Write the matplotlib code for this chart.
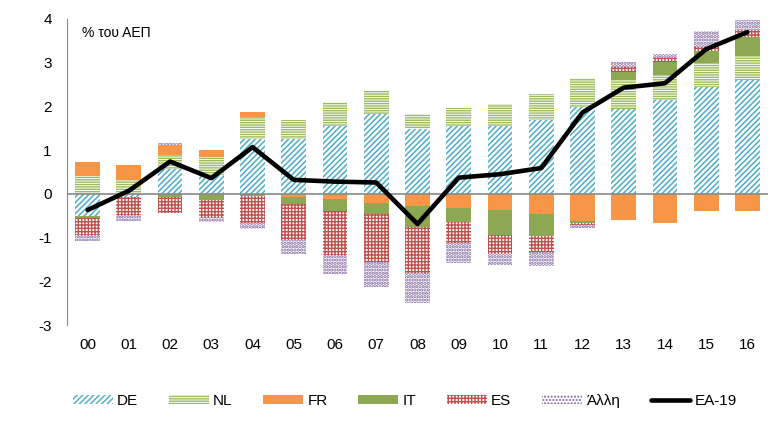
import matplotlib.pyplot as plt
import numpy as np

years = ['00', '01', '02', '03', '04', '05', '06', '07', '08',
         '09', '10', '11', '12', '13', '14', '15', '16']

# contributions, % of GDP
de = [-0.50, -0.08, 0.56, 0.43, 1.25, 1.25, 1.56, 1.83, 1.48,
      1.56, 1.56, 1.69, 1.98, 1.95, 2.15, 2.44, 2.61]
nl = [0.41, 0.32, 0.33, 0.42, 0.50, 0.44, 0.55, 0.55, 0.35,
      0.41, 0.50, 0.60, 0.67, 0.66, 0.57, 0.56, 0.55]
fr = [0.31, 0.33, 0.22, 0.15, 0.13, -0.07, -0.11, -0.21, -0.27,
      -0.32, -0.37, -0.46, -0.62, -0.59, -0.66, -0.40, -0.40]
it = [-0.05, 0.02, -0.07, -0.14, -0.06, -0.16, -0.28, -0.25, -0.49,
      -0.32, -0.57, -0.50, -0.04, 0.17, 0.30, 0.26, 0.42]
es = [-0.39, -0.40, -0.37, -0.42, -0.61, -0.82, -1.02, -1.09, -1.04,
      -0.49, -0.43, -0.36, -0.06, 0.13, 0.08, 0.11, 0.16]
other = [-0.13, -0.13, 0.06, -0.08, -0.13, -0.32, -0.43, -0.57, -0.69,
         -0.46, -0.25, -0.33, -0.07, 0.11, 0.10, 0.36, 0.24]
ea19 = [-0.37, 0.07, 0.74, 0.36, 1.07, 0.32, 0.28, 0.26, -0.69,
        0.37, 0.45, 0.59, 1.86, 2.43, 2.53, 3.31, 3.70]

plt.rcParams['font.family'] = ['Liberation Sans', 'DejaVu Sans']
plt.rcParams['axes.unicode_minus'] = False
plt.rcParams['hatch.linewidth'] = 1.0

fig = plt.figure(figsize=(7.7, 4.36), dpi=100)
ax = fig.add_axes([67 / 770, 1 - 325 / 436, 701 / 770, 306 / 436])

# name, values, colour, hatch (None = solid), hatch linewidth
series = [
    ('DE', de, '#4BACC6', '//////', 1.1),
    ('NL', nl, '#9BBB59', '-------', 1.0),
    ('FR', fr, '#F79646', None, 1.0),
    ('IT', it, '#8CA853', None, 1.0),
    ('ES', es, '#C0504D', '+++++', 1.0),
    ('Άλλη', other, '#8064A2', '.....', 1.6),
]

x = np.arange(len(years))
pos = np.zeros(len(years))
neg = np.zeros(len(years))
handles = []
for name, vals, col, hatch, hlw in series:
    v = np.array(vals)
    base = np.where(v >= 0, pos, neg)
    b = ax.bar(x, v, 0.6, bottom=base, color='white' if hatch else col,
               edgecolor=col, linewidth=0, hatch=hatch, label=name, zorder=2)
    for p in b:
        if hasattr(p, 'set_hatch_linewidth'):
            p.set_hatch_linewidth(hlw)
    handles.append(b)
    pos += np.where(v >= 0, v, 0)
    neg += np.where(v < 0, v, 0)

ax.axhline(0, color='#898989', lw=1.2, zorder=3)
line, = ax.plot(x, ea19, color='black', lw=3.3, solid_capstyle='round',
                label='EA-19', zorder=5)
handles.append(line)

ax.set_xlim(-0.5, len(years) - 0.5)
ax.set_ylim(-3, 4)
ax.set_yticks(range(-3, 5))
ax.set_xticks(x, years)
ax.tick_params(axis='both', length=0, labelsize=11)
ax.tick_params(axis='y', pad=11)
ax.tick_params(axis='x', pad=9)
for s in ['top', 'right', 'bottom']:
    ax.spines[s].set_visible(False)
ax.spines['left'].set_color('#898989')

ax.text(0.021, 0.954, '% του ΑΕΠ', transform=ax.transAxes, fontsize=10,
        va='center', ha='left')

leg = ax.legend(handles=handles, loc='center', bbox_to_anchor=(0.526, 0.08),
                bbox_transform=fig.transFigure, ncol=7, frameon=False,
                fontsize=11, handlelength=2.6, handleheight=0.55,
                handletextpad=0.3, columnspacing=2.0)

fig.savefig('out.png', dpi=100)
